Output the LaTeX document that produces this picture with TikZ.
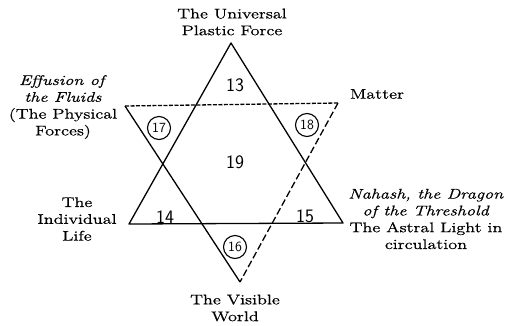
\documentclass[tikz,border=0pt]{standalone}
\usepackage{fontspec}
\setmainfont[FakeStretch=1.3,FakeBold=0.6]{Latin Modern Roman}
\begin{document}
\begin{tikzpicture}[x=1pt,y=-1pt,
  lbl/.style={align=center,inner sep=0pt,font=\fontsize{14}{16.8}\selectfont},
  num/.style={inner sep=0pt,font=\sffamily\fontsize{19}{19}\selectfont},
  cnum/.style={circle,draw,line width=1.1pt,minimum size=23pt,inner sep=0pt,font=\sffamily\fontsize{14}{14}\selectfont},
  edge/.style={line width=1.3pt,line join=round},
  fine/.style={edge,dash pattern=on 4pt off 1.5pt},
  longdash/.style={edge,dash pattern=on 7pt off 3pt}]
\useasboundingbox (0,0) rectangle (511,325);
% upward triangle
\coordinate (A) at (231,43);
\coordinate (B) at (129,224);
\coordinate (C) at (343,223);
% downward triangle
\coordinate (D) at (125,106);
\coordinate (E) at (338,103);
\coordinate (F) at (240,282);
\draw[edge] (A) -- (B) -- (C) -- cycle;
\draw[fine] (D) -- (E);
\draw[longdash] (E) -- (F);
\draw[edge] (D) -- (F);
% numbers
\node[num] (n13) at (235,85) {13};
\node[num] (n19) at (235,162) {19};
\node[num] (n14) at (165,217) {14};
\node[num] (n15) at (305,216) {15};
\node[cnum] (n17) at (159,128) {17};
\node[cnum] (n18) at (307,125) {18};
\node[cnum] (n16) at (235,247) {16};
% labels
\node[lbl] (univ) at (232,22) {The Universal\\Plastic Force};
\node[lbl] (matter) at (377,94) {Matter};
\node[lbl] (effusion) at (63,107) {\textit{Effusion of}\\\textit{the Fluids}\\(The Physical\\Forces)};
\node[lbl] (indiv) at (77,219) {The\\Individual\\Life};
\node[lbl] (nahash) at (426,219) {\textit{Nahash, the Dragon}\\\textit{of the Threshold}\\The Astral Light in\\circulation};
\node[lbl] (visible) at (235,308) {The Visible\\World};
\end{tikzpicture}
\end{document}
